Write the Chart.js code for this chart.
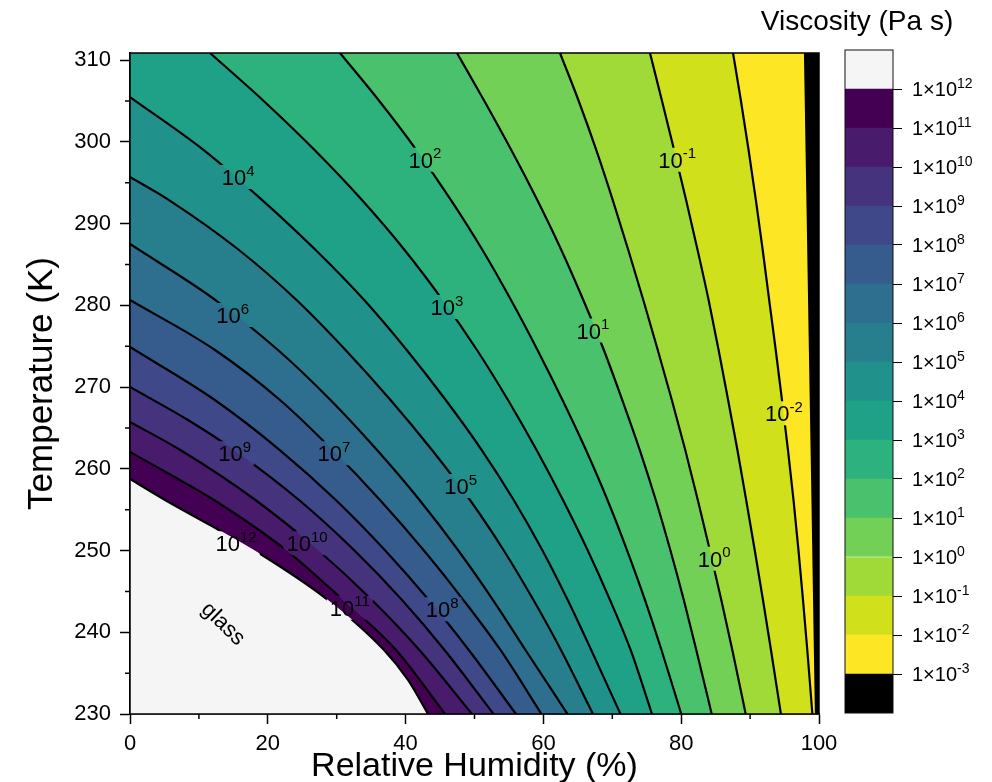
<!DOCTYPE html>
<html>
<head>
<meta charset="utf-8">
<script src="https://cdn.jsdelivr.net/npm/chart.js@4.4.1/dist/chart.umd.min.js"></script>
<style>
  html, body { margin: 0; padding: 0; background: #fff; }
  #wrap { position: relative; width: 992px; height: 782px; overflow: hidden; }
  #main { position: absolute; left: 0; top: 0; }
  #cbar { position: absolute; left: 720px; top: 0; }
</style>
</head>
<body>
<div id="wrap">
  <canvas id="main" width="992" height="782"></canvas>
  <canvas id="cbar" width="272" height="782"></canvas>
</div>
<script>
(function () {
    var FONT = "'Liberation Sans', Arial, sans-serif";

    // log10 viscosity of each contour line
    var levels = [12, 11, 10, 9, 8, 7, 6, 5, 4, 3, 2, 1, 0, -1, -2, -3];

    // contour lines as [relative humidity %, temperature K]
    var c12 = [[0, 258.75], [5.08, 256.18], [11.61, 253.12], [18.0, 250.06], [28.74, 243.94], [36.87, 237.83], [40.35, 234.16], [43.25, 230]];
    var c11 = [[0, 262.05], [5.95, 259.24], [12.19, 256.18], [22.64, 250.06], [30.91, 243.94], [38.61, 237.83], [45.72, 230]];
    var c10 = [[0, 265.72], [7.31, 262.29], [18.20, 256.18], [27.27, 250.06], [35.11, 243.94], [42.00, 237.83], [49.64, 230]];
    var c9 = [[0, 270.0], [8.42, 265.96], [15.09, 262.29], [24.53, 256.18], [32.51, 250.06], [39.48, 243.94], [45.65, 237.83], [52.76, 230]];
    var c8 = [[0, 274.89], [12.31, 268.41], [21.74, 262.29], [29.87, 256.18], [36.98, 250.06], [43.37, 243.94], [49.17, 237.83], [56.02, 230]];
    var c7 = [[0, 280.64], [12.34, 274.53], [21.77, 268.41], [29.39, 262.29], [36.28, 256.18], [42.60, 250.06], [48.40, 243.94], [53.77, 237.83], [59.72, 230]];
    var c6 = [[0, 287.49], [12.41, 280.64], [21.48, 274.53], [29.10, 268.41], [35.85, 262.29], [42.02, 256.18], [47.60, 250.06], [52.69, 243.94], [57.40, 237.83], [63.50, 230]];
    var c5 = [[0, 295.69], [5.66, 292.87], [15.82, 286.76], [24.17, 280.64], [31.28, 274.53], [37.81, 268.41], [43.83, 262.29], [49.35, 256.18], [54.21, 250.06], [58.56, 243.94], [62.55, 237.83], [67.20, 230]];
    var c4 = [[0, 305.47], [10.70, 298.99], [19.19, 292.87], [26.95, 286.76], [33.99, 280.64], [40.16, 274.53], [45.82, 268.41], [51.05, 262.29], [55.69, 256.18], [59.83, 250.06], [63.53, 243.94], [66.94, 237.83], [71.19, 230]];
    var c3 = [[11.61, 310.86], [19.25, 305.11], [26.79, 298.99], [33.67, 292.87], [39.85, 286.76], [45.37, 280.64], [50.36, 274.53], [54.86, 268.41], [59.01, 262.29], [62.84, 256.18], [66.41, 250.06], [69.67, 243.94], [72.66, 237.83], [75.76, 230]];
    var c2 = [[30.48, 310.86], [36.07, 305.11], [41.58, 298.99], [46.59, 292.87], [51.16, 286.76], [55.30, 280.64], [59.14, 274.53], [62.77, 268.41], [66.18, 262.29], [69.30, 256.18], [72.13, 250.06], [74.75, 243.94], [77.14, 237.83], [80.01, 230]];
    var c1 = [[47.46, 310.86], [51.35, 305.11], [55.34, 298.99], [59.11, 292.87], [62.60, 286.76], [65.79, 280.64], [68.77, 274.53], [71.45, 268.41], [73.99, 262.29], [76.31, 256.18], [78.42, 250.06], [80.38, 243.94], [82.19, 237.83], [84.43, 230]];
    var c0 = [[62.41, 310.86], [65.07, 305.11], [67.68, 298.99], [70.07, 292.87], [72.32, 286.76], [74.50, 280.64], [76.60, 274.53], [78.64, 268.41], [80.59, 262.29], [82.41, 256.18], [84.15, 250.06], [85.82, 243.94], [87.42, 237.83], [89.36, 230]];
    var cm1 = [[75.47, 310.86], [77.18, 305.11], [78.97, 298.99], [80.71, 292.87], [82.38, 286.76], [83.98, 280.64], [85.43, 274.53], [86.81, 268.41], [88.16, 262.29], [89.43, 256.18], [90.67, 250.06], [91.87, 243.94], [93.03, 237.83], [94.47, 230]];
    var cm2 = [[87.52, 310.86], [88.65, 305.11], [89.78, 298.99], [90.84, 292.87], [91.83, 286.76], [92.77, 280.64], [93.72, 274.53], [94.63, 268.41], [95.50, 262.29], [96.30, 256.18], [97.02, 250.06], [97.68, 243.94], [98.30, 237.83], [99.04, 230]];
    var cm3 = [[97.97, 310.86], [98.33, 292.87], [98.69, 274.53], [99.06, 256.18], [99.56, 230]];
    var contours = [c12, c11, c10, c9, c8, c7, c6, c5, c4, c3, c2, c1, c0, cm1, cm2, cm3];

    // in-plot labels
    var labelExp = [4, 2, -1, 6, 3, 1, -2, 9, 7, 5, 12, 10, 0, 11, 8];
    var labelRH = [15.7, 42.8, 79.4, 14.9, 46.0, 67.2, 94.9, 15.2, 29.6, 48.0, 15.4, 25.7, 84.8, 31.9, 45.3];
    var labelT = [295.7, 297.8, 297.8, 278.8, 279.8, 276.9, 266.8, 261.9, 261.9, 257.9, 250.9, 250.9, 249.0, 243.0, 242.8];
    var glassRH = 13.5, glassT = 241.0;

    var xTicks = [0, 20, 40, 60, 80, 100];
    var xMinor = [10, 30, 50, 70, 90];
    var yTicks = [230, 240, 250, 260, 270, 280, 290, 300, 310];
    var yMinor = [235, 245, 255, 265, 275, 285, 295, 305];

    // colour of the band [k, k+1], index k + 4 (k = -4 .. 12)
    var bandColors = ['#000000', '#fde725', '#d0e11c', '#a0da39', '#73d056', '#4ac16d', '#2db27d', '#1fa187',
        '#21918c', '#277f8e', '#2e6e8e', '#365c8d', '#3f4889', '#46337e', '#481b6d', '#440154', '#f5f5f5'];
    var glassColor = bandColors[16];

    function powParts(ctx, base, exp, size, supSize) {
        ctx.font = size + 'px ' + FONT;
        var wb = ctx.measureText(base).width;
        ctx.font = supSize + 'px ' + FONT;
        var we = ctx.measureText(exp).width;
        return { wb: wb, we: we, w: wb + we };
    }

    function drawPow(ctx, x, y, base, exp, size, supSize, align) {
        var m = powParts(ctx, base, exp, size, supSize);
        var x0 = align === 'left' ? x : x - m.w / 2;
        var baseY = y + size * 0.36;
        ctx.textAlign = 'left';
        ctx.textBaseline = 'alphabetic';
        ctx.font = size + 'px ' + FONT;
        ctx.fillText(base, x0, baseY);
        ctx.font = supSize + 'px ' + FONT;
        ctx.fillText(exp, x0 + m.wb, baseY - size * 0.42);
    }

    function labelBoxes(chart) {
        var ctx = chart.ctx, sx = chart.scales.x, sy = chart.scales.y;
        return labelExp.map(function (e, i) {
            var m = powParts(ctx, '10', String(e), 22, 15);
            var cx = sx.getPixelForValue(labelRH[i]), cy = sy.getPixelForValue(labelT[i]);
            return { x: cx - m.w / 2 - 3, y: cy - 12, w: m.w + 6, h: 24, cx: cx, cy: cy, e: e };
        });
    }

    var contourFill = {
        id: 'contourFill',
        beforeDatasetsDraw: function (chart) {
            var ctx = chart.ctx, a = chart.chartArea;
            ctx.save();
            ctx.beginPath();
            ctx.rect(a.left, a.top, a.right - a.left, a.bottom - a.top);
            ctx.clip();
            ctx.fillStyle = glassColor;
            ctx.fillRect(a.left, a.top, a.right - a.left, a.bottom - a.top);
            chart.data.datasets.forEach(function (ds, i) {
                var line = chart.getDatasetMeta(i).dataset;
                line.updateControlPoints(a, 'x');
                var first = line.points[0];
                ctx.beginPath();
                line.path(ctx);
                ctx.lineTo(a.right, a.bottom);
                ctx.lineTo(a.right, a.top);
                ctx.lineTo(first.x, a.top);
                ctx.closePath();
                ctx.fillStyle = ds.bandColor;
                ctx.fill();
            });
            ctx.restore();
        }
    };

    // cut the contour lines where the labels sit
    var labelGaps = {
        id: 'labelGaps',
        beforeDatasetDraw: function (chart) {
            var ctx = chart.ctx, a = chart.chartArea;
            ctx.save();
            ctx.beginPath();
            ctx.rect(a.left - 2, a.top - 2, a.right - a.left + 4, a.bottom - a.top + 4);
            labelBoxes(chart).forEach(function (b) { ctx.rect(b.x, b.y, b.w, b.h); });
            ctx.clip('evenodd');
        },
        afterDatasetDraw: function (chart) {
            chart.ctx.restore();
        }
    };

    var frameAndLabels = {
        id: 'frameAndLabels',
        afterDatasetsDraw: function (chart) {
            var ctx = chart.ctx, a = chart.chartArea, sx = chart.scales.x, sy = chart.scales.y;
            ctx.save();
            ctx.fillStyle = '#000';
            labelBoxes(chart).forEach(function (b) {
                drawPow(ctx, b.cx, b.cy, '10', String(b.e), 22, 15, 'center');
            });
            ctx.save();
            ctx.translate(sx.getPixelForValue(glassRH), sy.getPixelForValue(glassT));
            ctx.rotate(44 * Math.PI / 180);
            ctx.font = '22px ' + FONT;
            ctx.textAlign = 'center';
            ctx.textBaseline = 'middle';
            ctx.fillText('glass', 0, 0);
            ctx.restore();

            ctx.strokeStyle = '#000';
            ctx.lineWidth = 1.5;
            ctx.strokeRect(a.left, a.top, a.right - a.left, a.bottom - a.top);
            ctx.beginPath();
            xMinor.forEach(function (v) {
                var px = sx.getPixelForValue(v);
                ctx.moveTo(px, a.bottom);
                ctx.lineTo(px, a.bottom + 5);
            });
            yMinor.forEach(function (v) {
                var py = sy.getPixelForValue(v);
                ctx.moveTo(a.left, py);
                ctx.lineTo(a.left - 5, py);
            });
            ctx.stroke();
            ctx.restore();
        }
    };

    var tickFont = { family: FONT, size: 22 };

    new Chart(document.getElementById('main'), {
        type: 'line',
        data: {
            datasets: contours.map(function (pts, i) {
                return {
                    label: 'level ' + levels[i],
                    data: pts.map(function (p) { return { x: p[0], y: p[1] }; }),
                    fill: false,
                    borderColor: '#000',
                    borderWidth: 2.2,
                    pointRadius: 0,
                    cubicInterpolationMode: 'monotone',
                    bandColor: bandColors[levels[i] + 3]
                };
            })
        },
        options: {
            responsive: false,
            animation: false,
            devicePixelRatio: 1,
            events: [],
            layout: { padding: { top: 53, right: 173, bottom: 0, left: 0 } },
            plugins: { legend: { display: false }, tooltip: { enabled: false } },
            scales: {
                x: {
                    type: 'linear',
                    min: 0,
                    max: 100,
                    afterBuildTicks: function (s) { s.ticks = xTicks.map(function (v) { return { value: v }; }); },
                    afterFit: function (s) { s.height = 68; },
                    ticks: { font: tickFont, color: '#000', padding: 7, maxRotation: 0, autoSkip: false },
                    grid: { drawOnChartArea: false, drawTicks: true, tickLength: 10, tickWidth: 1.5, tickColor: '#000' },
                    border: { display: true, color: '#000', width: 1.5 },
                    title: { display: true, text: 'Relative Humidity (%)', font: { family: FONT, size: 34 }, color: '#000', padding: { top: 0, bottom: -5 } }
                },
                y: {
                    type: 'linear',
                    min: 230,
                    max: 310.86,
                    afterBuildTicks: function (s) { s.ticks = yTicks.map(function (v) { return { value: v }; }); },
                    afterFit: function (s) { s.width = 130; },
                    ticks: { font: tickFont, color: '#000', padding: 9, autoSkip: false },
                    grid: { drawOnChartArea: false, drawTicks: true, tickLength: 10, tickWidth: 1.5, tickColor: '#000' },
                    border: { display: true, color: '#000', width: 1.5 },
                    title: { display: true, text: 'Temperature (K)', font: { family: FONT, size: 35 }, color: '#000', padding: { top: 21, bottom: 0 } }
                }
            }
        },
        plugins: [contourFill, labelGaps, frameAndLabels]
    });

    // colour bar
    var cbBands = [-4, -3, -2, -1, 0, 1, 2, 3, 4, 5, 6, 7, 8, 9, 10, 11, 12];
    var cbTicks = [-3, -2, -1, 0, 1, 2, 3, 4, 5, 6, 7, 8, 9, 10, 11, 12];

    var cbLabels = {
        id: 'cbLabels',
        afterDraw: function (chart) {
            var ctx = chart.ctx, a = chart.chartArea, sy = chart.scales.y;
            ctx.save();
            ctx.strokeStyle = '#111';
            ctx.lineWidth = 1;
            ctx.strokeRect(a.left, a.top, a.right - a.left, a.bottom - a.top);
            ctx.fillStyle = '#000';
            cbTicks.forEach(function (v) {
                drawPow(ctx, a.right + 19, sy.getPixelForValue(v), '1\u00d710', String(v), 20, 14, 'left');
            });
            ctx.font = '28px ' + FONT;
            ctx.textAlign = 'center';
            ctx.textBaseline = 'middle';
            ctx.fillText('Viscosity (Pa s)', a.left + 12, 22);
            ctx.restore();
        }
    };

    new Chart(document.getElementById('cbar'), {
        type: 'bar',
        data: {
            labels: [''],
            datasets: cbBands.map(function (k, i) {
                return {
                    data: [[k, k + 1]],
                    backgroundColor: bandColors[i],
                    borderWidth: 0,
                    barPercentage: 1,
                    categoryPercentage: 1,
                    grouped: false
                };
            })
        },
        options: {
            responsive: false,
            animation: false,
            devicePixelRatio: 1,
            events: [],
            layout: { padding: { top: 50, right: 0, bottom: 69, left: 125 } },
            plugins: { legend: { display: false }, tooltip: { enabled: false } },
            scales: {
                x: { display: false },
                y: {
                    position: 'right',
                    min: -4,
                    max: 13,
                    afterBuildTicks: function (s) { s.ticks = cbTicks.map(function (v) { return { value: v }; }); },
                    afterFit: function (s) { s.width = 99; },
                    ticks: { display: false },
                    grid: { drawOnChartArea: false, drawTicks: true, tickLength: 9, tickColor: '#000', tickWidth: 1 },
                    border: { display: false }
                }
            }
        },
        plugins: [cbLabels]
    });
})();
</script>
</body>
</html>
